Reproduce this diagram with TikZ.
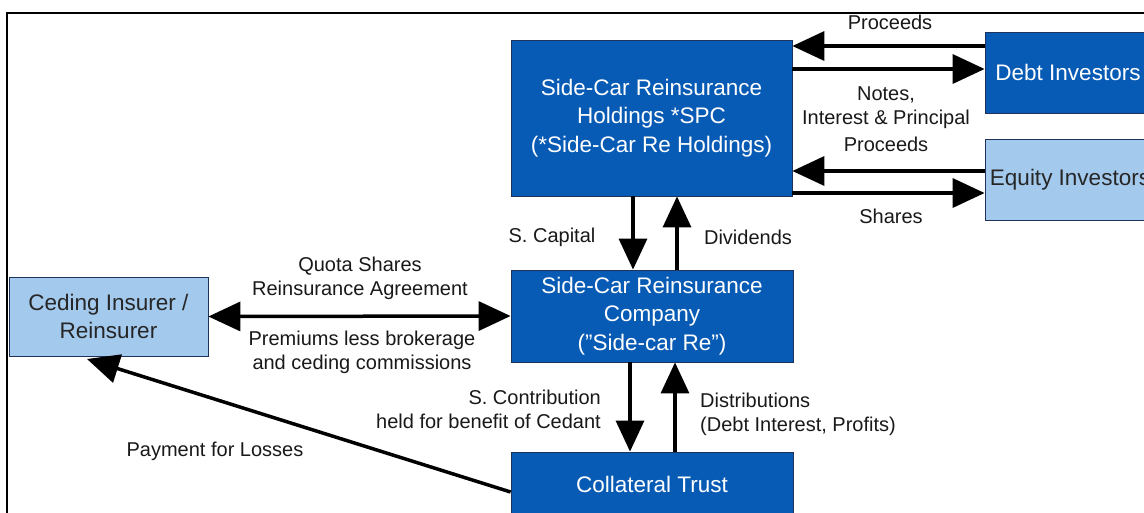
\documentclass[tikz,border=0pt]{standalone}
\usepackage{fontspec}
\setmainfont{Liberation Sans}
\usetikzlibrary{arrows.meta}
\definecolor{dkblue}{RGB}{7,91,181}
\definecolor{ltblue}{RGB}{163,201,237}
\definecolor{edgec}{RGB}{30,50,90}
\begin{document}
\begin{tikzpicture}[x=1pt,y=-1pt,
  box/.style={rectangle, draw=edgec, line width=0.8pt, fill=dkblue, text=white, align=center, font=\fontsize{22.5}{28.5}\selectfont, inner sep=0pt},
  lbox/.style={box, fill=ltblue, text=black!85},
  lab/.style={align=center, font=\fontsize{20}{24}\selectfont, text=black!90, inner sep=0pt},
  harr/.style={line width=3.5pt, -{Triangle[length=32pt,width=29pt]}},
  varr/.style={line width=3.3pt, -{Triangle[length=31pt,width=28pt]}},
]
\path[use as bounding box, clip] (0,0) rectangle (1144,512);
\fill[white] (0,0) rectangle (1144,512);
\draw[line width=2.5pt] (7,520) -- (7,13) -- (1150,13);

\node[box, minimum width=281pt, minimum height=156pt] (hold) at (651.5,118) {Side-Car Reinsurance\\Holdings *SPC\\(*Side-Car Re Holdings)};
\node[box, minimum width=166pt, minimum height=81pt] (debt) at (1068,72.5) {Debt Investors};
\node[lbox, minimum width=170pt, minimum height=81pt] (eq) at (1070,179.5) {Equity Investors};
\node[box, minimum width=282pt, minimum height=92pt] (comp) at (652,316) {Side-Car Reinsurance\\Company\\("Side-car Re")};
\node[box, minimum width=282pt, minimum height=64pt] (coll) at (652,484) {Collateral Trust};
\node[lbox, minimum width=199pt, minimum height=79pt] (ced) at (108.5,316.5) {Ceding Insurer /\\Reinsurer};

\coordinate (yP) at (0,46);
\coordinate (yN) at (0,69);
\coordinate (yE) at (0,171);
\coordinate (yS) at (0,193);
\coordinate (xa) at (633,0);
\coordinate (xb) at (677,0);
\coordinate (xc) at (630,0);
\coordinate (xd) at (675,0);
\coordinate (yL) at (0,492);
\coordinate (pt) at (87,359);

\draw[harr] (debt.west |- yP) -- (hold.east |- yP);
\draw[harr] (hold.east |- yN) -- (debt.west |- yN);
\draw[harr] (eq.west |- yE) -- (hold.east |- yE);
\draw[harr] (hold.east |- yS) -- (eq.west |- yS);
\draw[varr] (hold.south -| xa) -- (comp.north -| xa);
\draw[varr] (comp.north -| xb) -- (hold.south -| xb);
\draw[varr] (comp.south -| xc) -- (coll.north -| xc);
\draw[varr] (coll.north -| xd) -- (comp.south -| xd);
\draw[line width=3.5pt, {Triangle[length=32pt,width=29pt]}-{Triangle[length=32pt,width=29pt]}] (ced.east) -- (comp.west);
\draw[harr] (coll.west |- yL) -- (pt);

\node[lab] (l1) at (890,22) {Proceeds};
\node[lab] (l2) at (886,108) {Notes,\\Interest \& Principal};
\node[lab] (l3) at (886,144) {Proceeds};
\node[lab] (l4) at (891,216) {Shares};
\node[lab] (l5) at (552,237) {S. Capital};
\node[lab] (l6) at (748,237) {Dividends};
\node[lab] (l7) at (360,278.5) {Quota Shares\\Reinsurance Agreement};
\node[lab] (l8) at (362,352) {Premiums less brokerage\\and ceding commissions};
\node[lab, align=right, anchor=east] (l9) at (601,409) {S. Contribution\\held for benefit of Cedant};
\node[lab, align=left, anchor=west] (l10) at (700,414.5) {Distributions\\(Debt Interest, Profits)};
\node[lab] (l11) at (215,451) {Payment for Losses};
\end{tikzpicture}
\end{document}
